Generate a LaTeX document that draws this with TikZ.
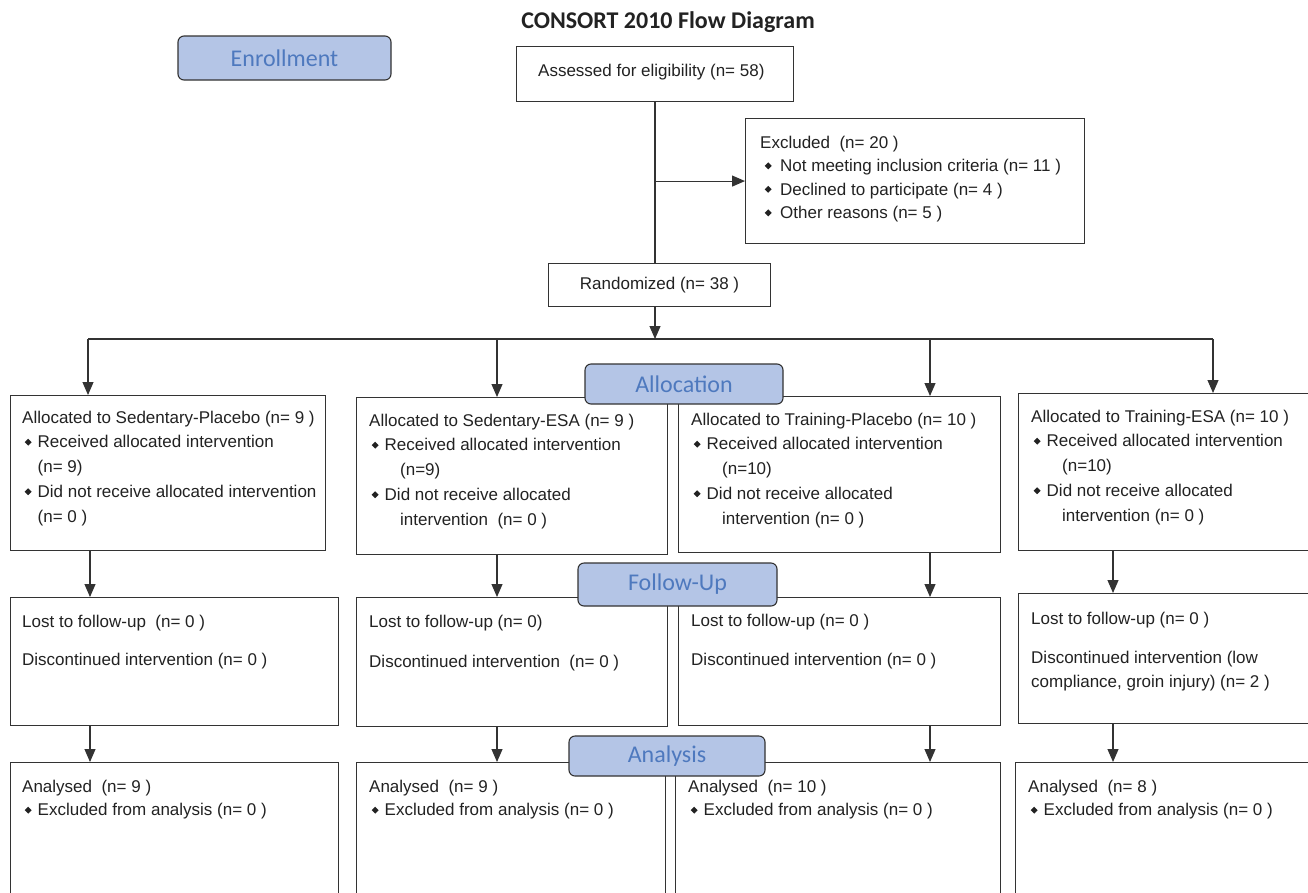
\documentclass[tikz,border=0pt]{standalone}
\usepackage{fontspec}
\setmainfont{Liberation Sans}
\newfontfamily\calib{Carlito}
\usetikzlibrary{arrows.meta,calc}
\definecolor{lbl}{HTML}{B4C5E6}
\definecolor{lbltxt}{HTML}{4E79BE}
\definecolor{ln}{HTML}{333333}
\definecolor{tx}{HTML}{222222}
\newcommand{\dia}{\raisebox{2.3pt}{\rotatebox{45}{\rule{4.9pt}{4.9pt}}}}
\newcommand{\bul}{\makebox[15.5pt][l]{\hspace{2.5pt}\dia}}
\newcommand{\bulx}{\makebox[20pt][l]{\hspace{4.5pt}\dia}}
\begin{document}
\begin{tikzpicture}[x=1pt,y=-1pt,
  boxx/.style={draw=ln, line width=1.1pt, rectangle, anchor=north west, inner sep=0pt},
  lab/.style={draw=ln, fill=lbl, rounded corners=6pt, line width=1.1pt, text=lbltxt, inner sep=0pt,
    font=\calib\fontsize{24}{28}\selectfont},
  txt/.style={anchor=north west, inner sep=0pt, align=left, text=tx,
    font=\fontsize{17}{24.8}\selectfont},
  conn/.style={draw=ln, line width=1.1pt},
  arr/.style={draw=ln, line width=1.1pt, -{Triangle[width=11pt,length=13pt]}}]
\useasboundingbox (0,0) rectangle (1308,892);
\clip (0,0) rectangle (1308,892);
\fill[white] (0,0) rectangle (1308,892);

% title
\node[font=\calib\bfseries\fontsize{24}{28}\selectfont, text=tx] (title) at (668,22) {CONSORT 2010 Flow Diagram};

% boxes
\node[boxx, minimum width=277pt, minimum height=55pt] (as) at (516,46) {};
\node[boxx, minimum width=339pt, minimum height=125pt] (ex) at (745,118) {};
\node[boxx, minimum width=222pt, minimum height=43pt] (rnd) at (548,263) {};

\node[boxx, minimum width=315pt, minimum height=155pt] (a1) at (10,395) {};
\node[boxx, minimum width=311pt, minimum height=157pt] (b1) at (356,397) {};
\node[boxx, minimum width=322pt, minimum height=156pt] (c1) at (678,396) {};
\node[boxx, minimum width=300pt, minimum height=157pt] (d1) at (1018,393) {};

\node[boxx, minimum width=328pt, minimum height=128pt] (a2) at (10,597) {};
\node[boxx, minimum width=311pt, minimum height=129pt] (b2) at (356,597) {};
\node[boxx, minimum width=322pt, minimum height=128pt] (c2) at (678,597) {};
\node[boxx, minimum width=300pt, minimum height=130pt] (d2) at (1018,593) {};

\node[boxx, minimum width=328pt, minimum height=150pt] (a3) at (10,762) {};
\node[boxx, minimum width=309pt, minimum height=150pt] (b3) at (356,762) {};
\node[boxx, minimum width=325pt, minimum height=150pt] (c3) at (675,762) {};
\node[boxx, minimum width=303pt, minimum height=150pt] (d3) at (1015,762) {};

% texts
\node[txt] (ast) at ($(as.north west)+(22,17.6)$) {Assessed for eligibility (n= 58)};
\node[txt] (ext) at ($(ex.north west)+(15,17.6)$) {Excluded\ \ (n= 20 )\\[-1.3pt]
\bulx Not meeting inclusion criteria (n= 11 )\\[-1.3pt]
\bulx Declined to participate (n= 4 )\\[-1.3pt]
\bulx Other reasons (n= 5 )};
\node[txt, anchor=center] (rndt) at (rnd.center) {Randomized (n= 38 )};

\node[txt] (a1t) at ($(a1.north west)+(12,15.6)$) {Allocated to Sedentary-Placebo (n= 9 )\\
\bul Received allocated intervention\\
\hspace*{15.5pt}(n= 9)\\
\bul Did not receive allocated intervention\\
\hspace*{15.5pt}(n= 0 )};
\node[txt] (b1t) at ($(b1.north west)+(13,16.6)$) {Allocated to Sedentary-ESA (n= 9 )\\
\bul Received allocated intervention\\
\hspace*{31pt}(n=9)\\
\bul Did not receive allocated\\
\hspace*{31pt}intervention\ \ (n= 0 )};
\node[txt] (c1t) at ($(c1.north west)+(13,16.6)$) {Allocated to Training-Placebo (n= 10 )\\
\bul Received allocated intervention\\
\hspace*{31pt}(n=10)\\
\bul Did not receive allocated\\
\hspace*{31pt}intervention (n= 0 )};
\node[txt] (d1t) at ($(d1.north west)+(13,16.6)$) {Allocated to Training-ESA (n= 10 )\\
\bul Received allocated intervention\\
\hspace*{31pt}(n=10)\\
\bul Did not receive allocated\\
\hspace*{31pt}intervention (n= 0 )};

\node[txt] (a2t) at ($(a2.north west)+(12,17.6)$) {Lost to follow-up\ \ (n= 0 )\\[14pt]
Discontinued intervention (n= 0 )};
\node[txt] (b2t) at ($(b2.north west)+(13,17.6)$) {Lost to follow-up (n= 0)\\[16pt]
Discontinued intervention\ \ (n= 0 )};
\node[txt] (c2t) at ($(c2.north west)+(13,16.6)$) {Lost to follow-up (n= 0 )\\[15pt]
Discontinued intervention (n= 0 )};
\node[txt] (d2t) at ($(d2.north west)+(13,18.6)$) {Lost to follow-up (n= 0 )\\[15pt]
Discontinued intervention (low\\[-1pt]
compliance, groin injury) (n= 2 )};

\node[txt] (a3t) at ($(a3.north west)+(12,17.6)$) {Analysed\ \ (n= 9 )\\[-1pt]
\bul Excluded from analysis (n= 0 )};
\node[txt] (b3t) at ($(b3.north west)+(13,17.6)$) {Analysed\ \ (n= 9 )\\[-1pt]
\bul Excluded from analysis (n= 0 )};
\node[txt] (c3t) at ($(c3.north west)+(13,17.6)$) {Analysed\ \ (n= 10 )\\[-1pt]
\bul Excluded from analysis (n= 0 )};
\node[txt] (d3t) at ($(d3.north west)+(13,17.6)$) {Analysed\ \ (n= 8 )\\[-1pt]
\bul Excluded from analysis (n= 0 )};

% connector coordinates
\coordinate (sp) at (655,339);
\coordinate (hl) at (88,339);
\coordinate (hb) at (497,339);
\coordinate (hc) at (930,339);
\coordinate (hr) at (1213,339);
\coordinate (ca) at (90,0);
\coordinate (cb) at (497,0);
\coordinate (cc) at (930,0);
\coordinate (cd) at (1113,0);

\draw[conn] (as.south -| sp) -- (rnd.north -| sp);
\draw[arr] (sp |- ex.west) -- (ex.west);
\draw[arr] (rnd.south -| sp) -- (sp);
\draw[conn] (hl) -- (hr);
\draw[arr] (hl) -- (hl |- a1.north);
\draw[arr] (hb) -- (hb |- b1.north);
\draw[arr] (hc) -- (hc |- c1.north);
\draw[arr] (hr) -- (hr |- d1.north);

\draw[arr] (ca |- a1.south) -- (ca |- a2.north);
\draw[arr] (cb |- b1.south) -- (cb |- b2.north);
\draw[arr] (cc |- c1.south) -- (cc |- c2.north);
\draw[arr] (cd |- d1.south) -- (cd |- d2.north);

\draw[arr] (ca |- a2.south) -- (ca |- a3.north);
\draw[arr] (cb |- b2.south) -- (cb |- b3.north);
\draw[arr] (cc |- c2.south) -- (cc |- c3.north);
\draw[arr] (cd |- d2.south) -- (cd |- d3.north);

% stage labels
\node[lab, minimum width=213pt, minimum height=44pt] (enr) at (284.5,58) {Enrollment};
\node[lab, minimum width=198pt, minimum height=40pt] (alloc) at (684,384) {Allocation};
\node[lab, minimum width=199pt, minimum height=43pt] (fu) at (677.5,584.5) {Follow-Up};
\node[lab, minimum width=196pt, minimum height=40pt] (an) at (667,756) {Analysis};
\end{tikzpicture}
\end{document}
